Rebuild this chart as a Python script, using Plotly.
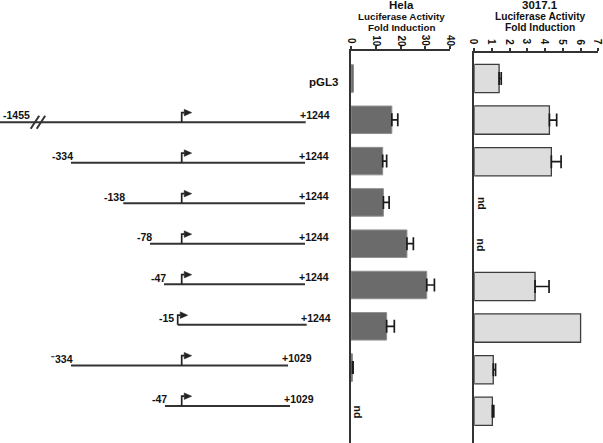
import plotly.graph_objects as go

# ---------------- data ----------------
rows = list(range(9))
construct_names = ["pGL3", "-1455/+1244", "-334/+1244", "-138/+1244", "-78/+1244",
                   "-47/+1244", "-15/+1244", "-334/+1029", "-47/+1029"]

hela_values = [1.0, 16.5, 12.8, 13.1, 22.6, 30.6, 14.4, 0.6, None]
hela_err = [None, 2.4, 1.6, 2.3, 2.6, 3.1, 3.1, 0.25, None]

c3017_values = [1.4, 4.24, 4.35, None, None, 3.43, 6.0, 1.07, 1.02]
c3017_err = [0.12, 0.41, 0.55, None, None, 0.79, None, 0.13, 0.08]

hela_ticks = [0, 10, 20, 30, 40]
c3017_ticks = [0, 1, 2, 3, 4, 5, 6, 7]

start_labels = [None, "-1455", "-334", "-138", "-78", "-47", "-15", "\u207b334", "-47"]
end_labels = [None, "+1244", "+1244", "+1244", "+1244", "+1244", "+1244", "+1029", "+1029"]
# schematic (not-to-scale) drawing positions relative to the TSS
schematic_start = [None, -182, -110.7, -58.4, -31.7, -17.7, -4.0, -110.7, -16.7]
schematic_end = [None, 124, 123.3, 123.3, 123.3, 123.3, 125, 106.3, 108.3]
tss_pos = [None, 0, 0, 0, 0, 0, -4.0, 0, 0]
truncated = [False, True, False, False, False, False, False, False, False]

# ---------------- style ----------------
W, H = 603, 443
FONT = "Liberation Sans, Arial, sans-serif"
AX = "#333333"
TXT = "#111111"

fig = go.Figure()

# Hela bars
fig.add_trace(go.Bar(
    x=hela_values, y=rows, orientation="h", width=0.666,
    marker=dict(color="#6b6b6b", line=dict(color="#8f8f8f", width=1)),
    xaxis="x", yaxis="y", showlegend=False, hoverinfo="skip"))
ex = [(v, r, e) for v, r, e in zip(hela_values, rows, hela_err) if v is not None and e is not None]
fig.add_trace(go.Scatter(
    x=[a[0] for a in ex], y=[a[1] for a in ex], mode="markers",
    marker=dict(size=1, color="rgba(0,0,0,0)"),
    error_x=dict(type="data", array=[a[2] for a in ex], arrayminus=[0] * len(ex),
                 symmetric=False, color="#1a1a1a", thickness=1.7, width=6.5),
    xaxis="x", yaxis="y", showlegend=False, hoverinfo="skip"))

# 3017.1 bars
fig.add_trace(go.Bar(
    x=c3017_values, y=rows, orientation="h", width=0.68,
    marker=dict(color="#dddddd", line=dict(color="#3c3c3c", width=1.3)),
    xaxis="x2", yaxis="y2", showlegend=False, hoverinfo="skip"))
ex2 = [(v, r, e) for v, r, e in zip(c3017_values, rows, c3017_err) if v is not None and e is not None]
fig.add_trace(go.Scatter(
    x=[a[0] for a in ex2], y=[a[1] for a in ex2], mode="markers",
    marker=dict(size=1, color="rgba(0,0,0,0)"),
    error_x=dict(type="data", array=[a[2] for a in ex2], arrayminus=[0] * len(ex2),
                 symmetric=False, color="#1a1a1a", thickness=1.7, width=6.5),
    xaxis="x2", yaxis="y2", showlegend=False, hoverinfo="skip"))

# ---------------- construct diagram ----------------
PXY = 40.51  # px per row on diagram axis
lx, ly = [], []
ax_, ay_ = [], []
hx, hy = [], []
sx, sy = [], []
arrow_h = 9.7 / PXY
head = 3.3 / PXY
for r, s, e, t, tr in zip(rows, schematic_start, schematic_end, tss_pos, truncated):
    if s is None:
        continue
    lx += [s, e, None]
    ly += [r, r, None]
    ax_ += [t, t, t + 2.5, None]
    ay_ += [r, r - arrow_h, r - arrow_h, None]
    hx += [t + 2.5, t + 2.5, t + 10, t + 2.5, None]
    hy += [r - arrow_h - head, r - arrow_h + head, r - arrow_h, r - arrow_h - head, None]
    if tr:
        for off in (31, 37):
            sx += [s + off, s + off + 8.5, None]
            sy += [r + 6.5 / PXY, r - 6.5 / PXY, None]

fig.add_trace(go.Scatter(x=lx, y=ly, mode="lines", line=dict(color="#333333", width=2),
                         xaxis="x3", yaxis="y3", showlegend=False, hoverinfo="skip"))
fig.add_trace(go.Scatter(x=ax_, y=ay_, mode="lines", line=dict(color="#222222", width=1.7),
                         xaxis="x3", yaxis="y3", showlegend=False, hoverinfo="skip"))
fig.add_trace(go.Scatter(x=hx, y=hy, mode="lines", fill="toself", fillcolor="#222222",
                         line=dict(color="#222222", width=0.5),
                         xaxis="x3", yaxis="y3", showlegend=False, hoverinfo="skip"))
fig.add_trace(go.Scatter(x=sx, y=sy, mode="lines", line=dict(color="#333333", width=2),
                         xaxis="x3", yaxis="y3", showlegend=False, hoverinfo="skip"))

annotations = []
lab_font = dict(family=FONT, size=10.5, color=TXT, weight="bold")
for r, s, e, t, sl, el, tr in zip(rows, schematic_start, schematic_end, tss_pos,
                                  start_labels, end_labels, truncated):
    if s is None:
        continue
    if tr:
        annotations.append(dict(x=s + 1, y=r - 0.19, xref="x3", yref="y3", text=sl,
                                xanchor="left", yanchor="middle", showarrow=False, font=lab_font))
    else:
        annotations.append(dict(x=min(s + 4, t - 2), y=r - 0.16, xref="x3", yref="y3", text=sl,
                                xanchor="right", yanchor="middle", showarrow=False, font=lab_font))
    annotations.append(dict(x=e - 8, y=r - 0.18, xref="x3", yref="y3", text=el,
                            xanchor="left", yanchor="middle", showarrow=False, font=lab_font))
# pGL3 label (row 0)
annotations.append(dict(x=158, y=0, xref="x3", yref="y3", text=construct_names[0],
                        xanchor="right", yanchor="middle", showarrow=False,
                        font=dict(family=FONT, size=11.5, color=TXT, weight="bold")))

# nd labels
nd_font = dict(family=FONT, size=10.5, color=TXT, weight="bold")
for r, v in zip(rows, hela_values):
    if v is None:
        annotations.append(dict(x=2.95, y=r + 0.07, xref="x", yref="y", text="nd", textangle=90,
                                xanchor="center", yanchor="middle", showarrow=False, font=nd_font))
for r, v in zip(rows, c3017_values):
    if v is None:
        annotations.append(dict(x=0.4, y=r, xref="x2", yref="y2", text="nd", textangle=90,
                                xanchor="center", yanchor="middle", showarrow=False, font=nd_font))

# tick labels (rotated)
tick_font = dict(family=FONT, size=10, color=TXT, weight="bold")
for v in hela_ticks:
    annotations.append(dict(x=v, y=1 - 41 / H, xref="x", yref="paper", text=str(v), textangle=90,
                            xanchor="center", yanchor="middle", showarrow=False, font=tick_font))
for v in c3017_ticks:
    annotations.append(dict(x=v, y=1 - 42 / H, xref="x2", yref="paper", text=str(v), textangle=90,
                            xanchor="center", yanchor="middle", showarrow=False, font=tick_font))

# panel titles
titles = [("Hela", 401.7), ("3017.1", 540.0)]
for i, (name, cx) in enumerate(titles):
    sub = 9.8 if i == 0 else 10.2
    annotations.append(dict(x=cx / W, y=1 - 5.0 / H, xref="paper", yref="paper", text=name,
                            xanchor="center", yanchor="middle", showarrow=False,
                            font=dict(family=FONT, size=11.5, color=TXT, weight="bold")))
    annotations.append(dict(x=cx / W, y=1 - 16.5 / H, xref="paper", yref="paper",
                            text="Luciferase Activity", xanchor="center", yanchor="middle",
                            showarrow=False, font=dict(family=FONT, size=sub, color=TXT, weight="bold")))
    annotations.append(dict(x=cx / W, y=1 - 27.3 / H, xref="paper", yref="paper",
                            text="Fold Induction", xanchor="center", yanchor="middle",
                            showarrow=False, font=dict(family=FONT, size=sub, color=TXT, weight="bold")))

# ---------------- axes ----------------
hela_top, c_top = 50.7, 52.7
hela_row0, c_row0 = 78.5, 78.5
hela_sp, c_sp = 41.3, 41.6


def xa(domain, rng, ticks, anchor):
    return dict(domain=domain, range=rng, side="top", anchor=anchor,
                showline=True, linecolor=AX, linewidth=2,
                ticks="outside", ticklen=3, tickwidth=1.5, tickcolor=AX,
                tickvals=ticks, showticklabels=False,
                showgrid=False, zeroline=False, fixedrange=True)


def ya(top_px, row0, sp, anchor):
    return dict(domain=[0, 1 - top_px / H],
                range=[(H - row0) / sp, -(row0 - top_px) / sp], anchor=anchor,
                showline=True, linecolor=AX, linewidth=2, ticks="",
                showticklabels=False, showgrid=False, zeroline=False, fixedrange=True)


fig.update_layout(
    width=W, height=H,
    margin=dict(l=0, r=0, t=0, b=0),
    paper_bgcolor="white", plot_bgcolor="rgba(0,0,0,0)",
    barmode="overlay",
    xaxis=xa([351 / W, 450 / W], [0, 40], hela_ticks, "y"),
    yaxis=ya(hela_top, hela_row0, hela_sp, "x"),
    xaxis2=xa([474.3 / W, 598.3 / W], [0, 7], c3017_ticks, "y2"),
    yaxis2=ya(c_top, c_row0, c_sp, "x2"),
    xaxis3=dict(domain=[0, 1], range=[-181.7, W - 181.7], visible=False, anchor="y3",
                fixedrange=True),
    yaxis3=dict(domain=[0, 1], range=[8.916, -2.019], visible=False, anchor="x3",
                fixedrange=True),
    annotations=annotations,
    showlegend=False,
)

fig.write_html("out.html", config={"displayModeBar": False},
               post_script="document.body.style.margin='0';")
